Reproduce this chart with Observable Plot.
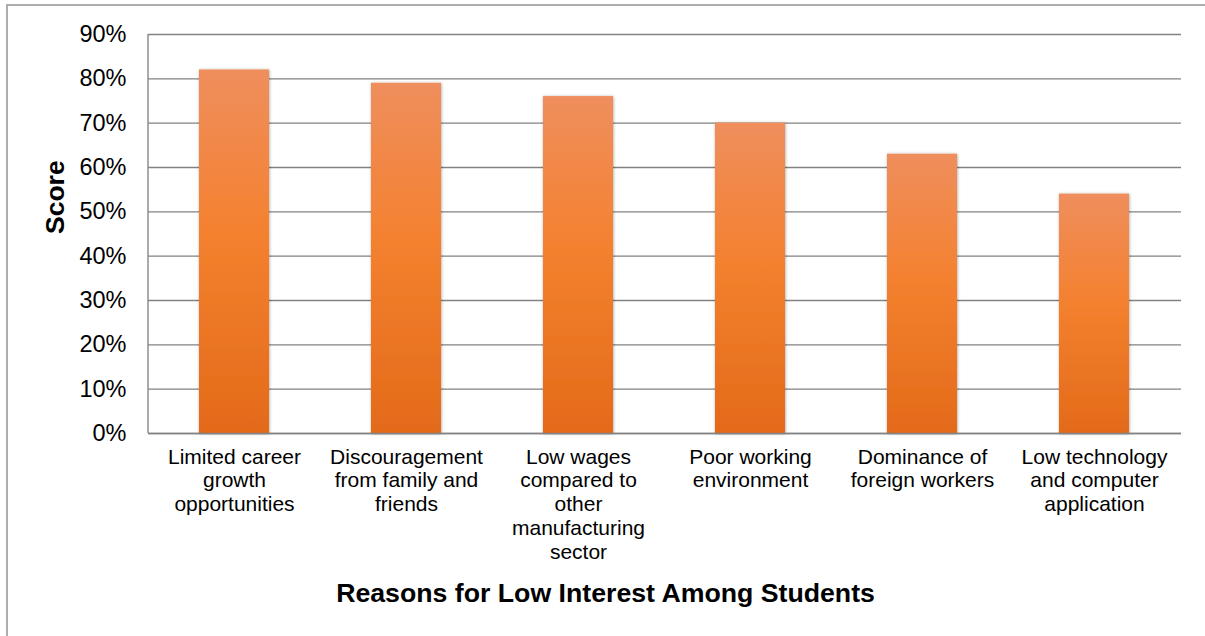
<!DOCTYPE html>
<html>
<head>
<meta charset="utf-8">
<script src="https://cdn.jsdelivr.net/npm/d3@7"></script>
<script src="https://cdn.jsdelivr.net/npm/@observablehq/plot@0.6"></script>
<style>
  html, body { margin: 0; padding: 0; background: #fff; overflow: hidden; }
  #wrap { position: relative; width: 1205px; height: 636px; overflow: hidden; }
  #frame { position: absolute; left: 6px; top: 4px; width: 1300px; height: 800px;
           border: 2px solid #adadad; box-sizing: border-box; }
  #chart { position: absolute; left: 0; top: 0; }
  svg { font-family: "Liberation Sans", Arial, sans-serif; }
</style>
</head>
<body>
<div id="wrap"><div id="frame"></div><div id="chart"></div></div>
<script>
const categories = [
  "Limited career\ngrowth\nopportunities",
  "Discouragement\nfrom family and\nfriends",
  "Low wages\ncompared to\nother\nmanufacturing\nsector",
  "Poor working\nenvironment",
  "Dominance of\nforeign workers",
  "Low technology\nand computer\napplication"
];
const scores = [82, 79, 76, 70, 63, 54];
const yTicks = [0, 10, 20, 30, 40, 50, 60, 70, 80, 90];
const xTitle = "Reasons for Low Interest Among Students";
const yTitle = "Score";

const data = categories.map((c, i) => ({category: c, score: scores[i]}));

const defs = () => {
  const d = d3.create("svg:defs");
  const g = d.append("linearGradient").attr("id", "barGrad")
    .attr("x1", 0).attr("y1", 0).attr("x2", 0).attr("y2", 1);
  g.append("stop").attr("offset", "0%").attr("stop-color", "#EF8E5D");
  g.append("stop").attr("offset", "45%").attr("stop-color", "#F4812F");
  g.append("stop").attr("offset", "100%").attr("stop-color", "#E36A19");
  const f = d.append("filter").attr("id", "barShadow")
    .attr("x", "-20%").attr("y", "-5%").attr("width", "140%").attr("height", "110%");
  f.append("feDropShadow").attr("dx", 0.5).attr("dy", 0.5)
    .attr("stdDeviation", 1.8).attr("flood-color", "#000").attr("flood-opacity", 0.35);
  return d.node();
};

// left value-axis line drawn from the y scale
const leftAxisLine = (index, scales, values, dims) => {
  const y = scales.y;
  return d3.create("svg:line")
    .attr("x1", dims.marginLeft).attr("x2", dims.marginLeft)
    .attr("y1", y(0)).attr("y2", y(d3.max(yTicks)))
    .attr("stroke", "#878787").attr("stroke-width", 1.4)
    .node();
};

const chart = Plot.plot({
  width: 1205,
  height: 636,
  marginLeft: 148,
  marginRight: 24,
  marginTop: 34,
  marginBottom: 203,
  style: {fontFamily: "'Liberation Sans', Arial, sans-serif", color: "#000", background: "transparent"},
  x: {domain: categories, paddingInner: 0.593, paddingOuter: 0.2965, align: 0.5, label: null},
  y: {domain: [0, 90], label: null},
  marks: [
    defs,
    Plot.gridY(yTicks, {stroke: "#828282", strokeOpacity: 1, strokeWidth: 1.4}),
    leftAxisLine,
    Plot.barY(data, {x: "category", y: "score", fill: "url(#barGrad)",
      render: (index, scales, values, dims, ctx, next) => {
        const g = next(index, scales, values, dims, ctx);
        g.setAttribute("filter", "url(#barShadow)");
        return g;
      }}),
    Plot.ruleY([0], {stroke: "#828282", strokeWidth: 1.6}),
    Plot.axisY(yTicks, {tickSize: 0, tickPadding: 22, fontSize: 23.5, tickFormat: d => d + "%", label: null}),
    Plot.axisX({tickSize: 0, tickPadding: 13, fontSize: 21, lineHeight: 1.14, label: null}),
    Plot.text([yTitle], {frameAnchor: "left", dx: -93, rotate: -90, fontSize: 26.5, fontWeight: "bold", fill: "#000"}),
    Plot.text([xTitle], {frameAnchor: "bottom", dx: 605 - 664.5, dy: 168, fontSize: 26.7, fontWeight: "bold", fill: "#000"})
  ]
});
document.getElementById("chart").appendChild(chart);
</script>
</body>
</html>
